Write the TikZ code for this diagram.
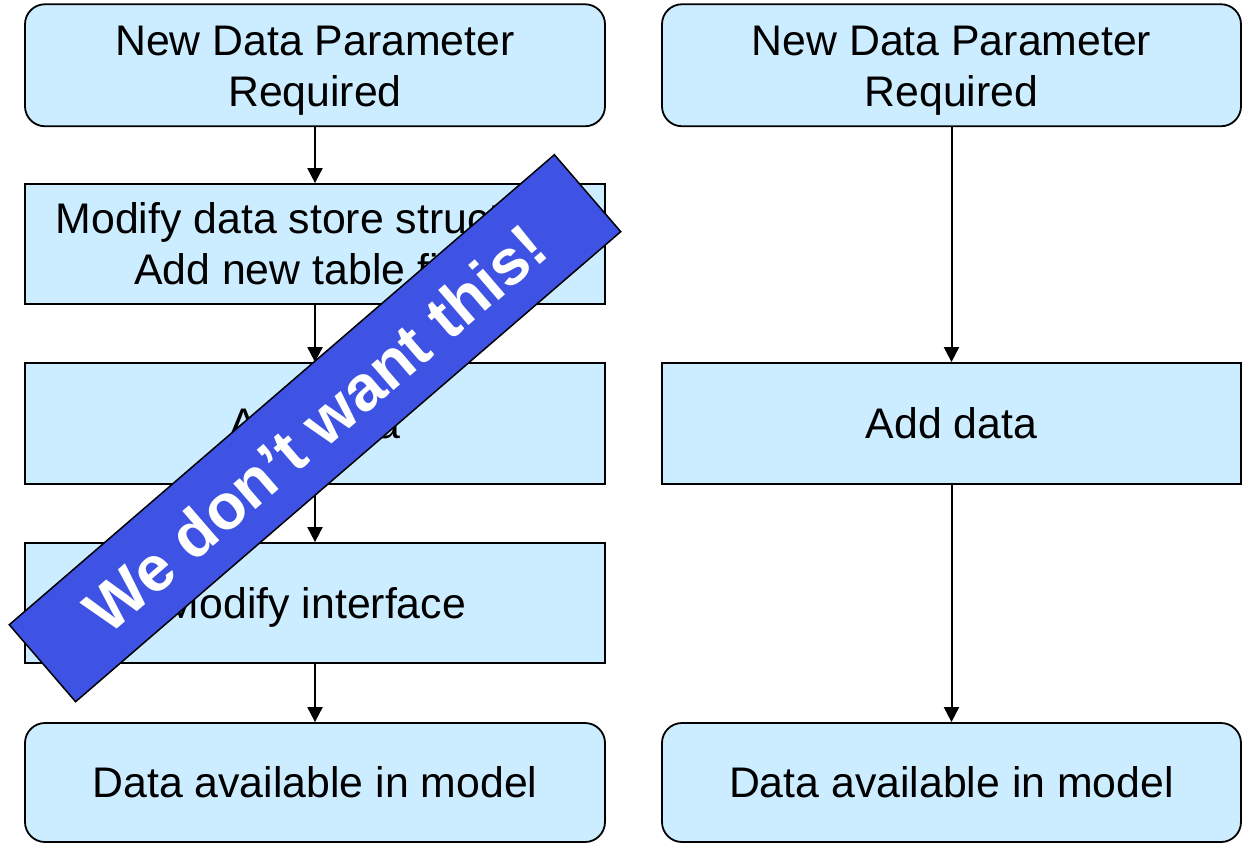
\documentclass[tikz,border=0pt]{standalone}
\usepackage{fontspec}
\setmainfont{Liberation Sans}
\usetikzlibrary{arrows.meta}
\definecolor{boxfill}{HTML}{CCECFF}
\definecolor{bannerblue}{HTML}{3E52E4}
\begin{document}
\begin{tikzpicture}[x=0.5pt,y=-0.5pt,
  boxbase/.style={draw=black, line width=0.9pt, fill=boxfill, inner sep=0pt,
    align=center, font={\fontsize{21.4pt}{25.5pt}\selectfont}, text depth=0pt},
  lbox/.style={boxbase, minimum width=290pt},
  rbox/.style={boxbase, minimum width=289.5pt},
  roundbox/.style={rounded corners=10pt},
  oneline/.style={text height=15.32pt},
  twoline/.style={text height=40.82pt},
  conn/.style={line width=1pt, -{Triangle[length=7.5pt,width=7.5pt]}},
  banner/.style={draw=black, line width=0.75pt, fill=bannerblue, text=white,
    inner sep=0pt, minimum width=359.9pt, minimum height=50.8pt,
    font={\fontsize{32pt}{36pt}\selectfont\bfseries}, text height=22.9pt, text depth=0pt}
]
\useasboundingbox (0,0) rectangle (1250,843);
% left column
\node[lbox, roundbox, twoline, minimum height=61pt] (l1) at (315,65.25) {New Data Parameter\\Required};
\node[lbox, twoline, minimum height=60pt] (l2) at (315,244) {Modify data store structure:\\Add new table field};
\node[lbox, oneline, minimum height=60.5pt] (l3) at (315,423.5) {Add data};
\node[lbox, oneline, minimum height=60pt] (l4) at (315,603) {Modify interface};
\node[lbox, roundbox, oneline, minimum height=59.5pt] (l5) at (315,782.5) {Data available in model};
% right column
\node[rbox, roundbox, twoline, minimum height=61pt] (r1) at (951.5,65.25) {New Data Parameter\\Required};
\node[rbox, oneline, minimum height=60.5pt] (r3) at (951.5,423.5) {Add data};
\node[rbox, roundbox, oneline, minimum height=59.5pt] (r5) at (951.5,782.5) {Data available in model};
% connectors
\draw[conn] (l1) -- (l2);
\draw[conn] (l2) -- (l3);
\draw[conn] (l3) -- (l4);
\draw[conn] (l4) -- (l5);
\draw[conn] (r1) -- (r3);
\draw[conn] (r3) -- (r5);
% banner
\node[banner, rotate=40.77] (ban) at (315,428.2) {We don’t want this!};
\end{tikzpicture}
\end{document}
